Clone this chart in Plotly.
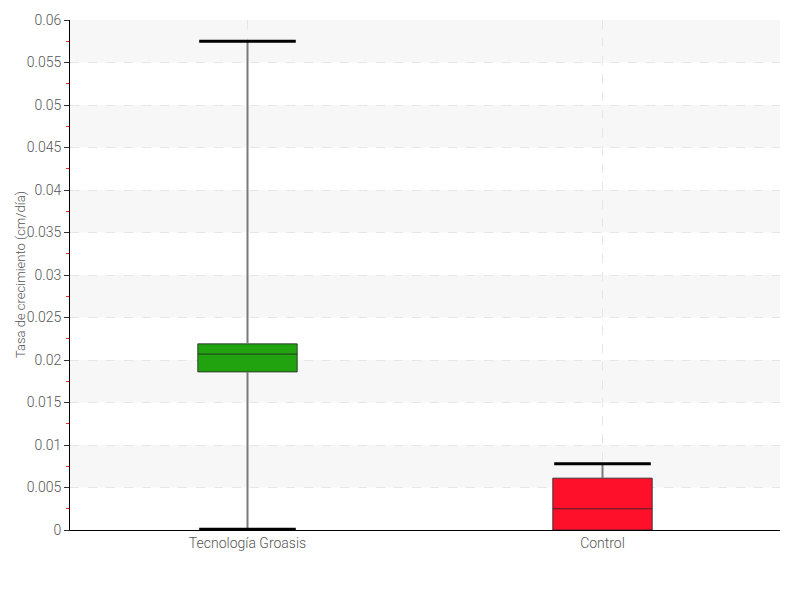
import plotly.graph_objects as go

categories = ["Tecnología Groasis", "Control"]
lower_fence = [0.0001, 0.0]
q1 = [0.0186, 0.0]
median = [0.0207, 0.0025]
q3 = [0.0219, 0.0061]
upper_fence = [0.0575, 0.0078]
fill_colors = ["#21a30f", "#fe0f2a"]
y_ticks = [0, 0.005, 0.01, 0.015, 0.02, 0.025, 0.03, 0.035, 0.04, 0.045, 0.05, 0.055, 0.06]
y_title = "Tasa de crecimiento (cm/día)"

FONT = "Roboto, sans-serif"

fig = go.Figure()

# whisker stems (gray), outside the box
for i, c in enumerate(categories):
    fig.add_trace(go.Scatter(
        x=[c, c, None, c, c],
        y=[lower_fence[i], q1[i], None, q3[i], upper_fence[i]], mode="lines",
        line=dict(color="#7a7a7a", width=2), hoverinfo="skip", showlegend=False))

# boxes
for i, c in enumerate(categories):
    fig.add_trace(go.Box(
        x=[c], q1=[q1[i]], median=[median[i]], q3=[q3[i]],
        lowerfence=[q1[i]], upperfence=[q3[i]],
        fillcolor=fill_colors[i], line=dict(color="rgba(40,40,40,0.85)", width=1),
        width=0.28, whiskerwidth=0, showlegend=False, boxpoints=False))

# whisker caps (black), only where a whisker extends beyond the box
for i, c in enumerate(categories):
    ys = []
    if lower_fence[i] < q1[i]:
        ys.append(lower_fence[i])
    if upper_fence[i] > q3[i]:
        ys.append(upper_fence[i])
    fig.add_trace(go.Scatter(
        x=[c] * len(ys), y=ys, mode="markers",
        marker=dict(symbol="line-ew", size=69, line=dict(color="#000000", width=3)),
        hoverinfo="skip", showlegend=False))

# alternating bands
shapes = []
for k in range(len(y_ticks) - 1):
    if (len(y_ticks) - 2 - k) % 2 == 0:
        shapes.append(dict(type="rect", xref="paper", yref="y", x0=0, x1=1,
                           y0=y_ticks[k], y1=y_ticks[k + 1],
                           fillcolor="#f7f7f7", line=dict(width=0), layer="below"))

fig.update_layout(
    width=800, height=600,
    margin=dict(l=62, r=28, t=12, b=78),
    paper_bgcolor="white", plot_bgcolor="white",
    font=dict(family=FONT, size=14, color="#555555", weight=300),
    shapes=shapes,
    annotations=[dict(
        text=y_title, textangle=-90, xref="paper", yref="paper",
        x=-50 / 710, y=0.5, xanchor="center", yanchor="middle", showarrow=False,
        font=dict(family=FONT, size=13, color="#555555", weight=300))],
    xaxis=dict(
        type="category", categoryorder="array", categoryarray=categories,
        range=[-0.5, len(categories) - 0.5], automargin=False,
        showline=True, linecolor="#000000", linewidth=1,
        showgrid=True, gridcolor="#e6e6e6", griddash="dash", gridwidth=1,
        ticks="", tickfont=dict(family=FONT, size=14, color="#555555", weight=300),
        zeroline=False,
    ),
    yaxis=dict(
        range=[0, 0.06], tickvals=y_ticks, ticktext=[f"{v:g}" for v in y_ticks],
        automargin=False,
        showline=True, linecolor="#000000", linewidth=1,
        ticks="outside", ticklen=5, tickcolor="#333333",
        showgrid=True, gridcolor="#e6e6e6", griddash="dash", gridwidth=1,
        zeroline=False,
        minor=dict(dtick=0.0025, ticks="outside", ticklen=3, tickcolor="#ff2020", showgrid=False),
        tickfont=dict(family=FONT, size=14, color="#555555", weight=300),
    ),
)

fig.write_html("out.html")
